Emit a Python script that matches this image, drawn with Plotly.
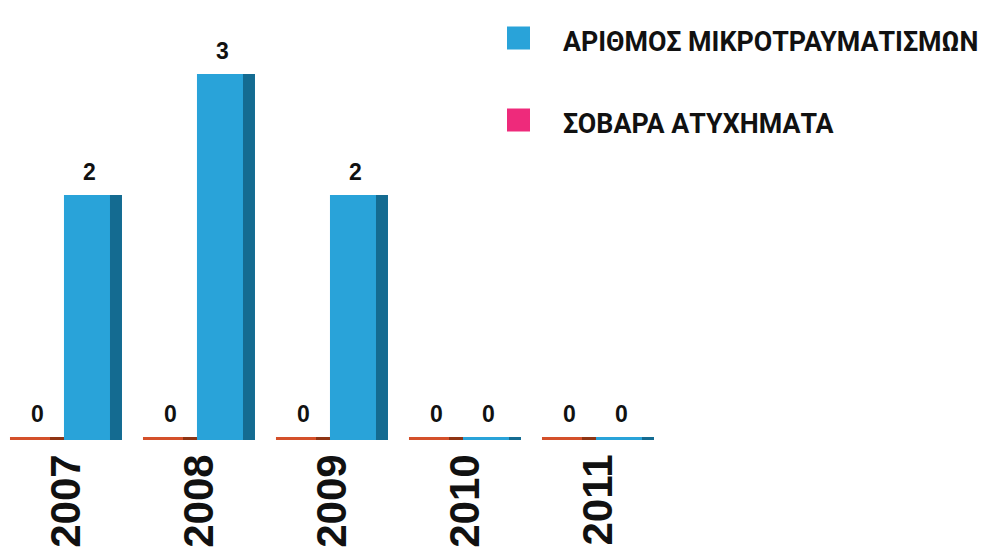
import plotly.graph_objects as go

years = ["2007", "2008", "2009", "2010", "2011"]
injuries = [2, 3, 2, 0, 0]          # ΑΡΙΘΜΟΣ ΜΙΚΡΟΤΡΑΥΜΑΤΙΣΜΩΝ
serious = [0, 0, 0, 0, 0]           # ΣΟΒΑΡΑ ΑΤΥΧΗΜΑΤΑ

name_inj = "ΑΡΙΘΜΟΣ ΜΙΚΡΟΤΡΑΥΜΑΤΙΣΜΩΝ"
name_ser = "ΣΟΒΑΡΑ ΑΤΥΧΗΜΑΤΑ"

BLUE, BLUE_DARK = "#29a3d9", "#146b91"
ORANGE, ORANGE_DARK = "#d4502a", "#8e3413"
PINK = "#ee2a7b"
BASE = -0.025   # bars start slightly below 0 so zero values show as a thin strip
LBL_FONT = dict(family="Liberation Sans, Arial", size=23, color="#111111", weight="bold")
LEG_FONT = dict(family="Roboto", size=26.8, color="#111111", weight="bold")

W, H = 986, 554
ML, MR, MT, MB = 0, 321, 0, 114
PW, PH = W - ML - MR, H - MT - MB

fig = go.Figure()

def bar(vals, color, offset, width, name):
    return go.Bar(
        x=years, y=[v - BASE for v in vals], base=BASE, offset=offset, width=width,
        marker=dict(color=color, line=dict(width=0)), name=name,
        showlegend=False, hoverinfo="skip",
    )

# serious accidents (left slot): front strip + darker end
fig.add_trace(bar(serious, ORANGE, -0.425, 0.414, name_ser))
fig.add_trace(bar(serious, ORANGE_DARK, -0.124, 0.113, name_ser))
# injuries (right slot): front face + darker side face
fig.add_trace(bar(injuries, BLUE, -0.019, 0.436, name_inj))
fig.add_trace(bar(injuries, BLUE_DARK, 0.327, 0.09, name_inj))

# value labels
annotations = []
for i, v in enumerate(serious):
    annotations.append(dict(x=i - 0.215, y=v, xref="x", yref="y", text=str(v),
                            showarrow=False, yanchor="middle", yshift=23, font=LBL_FONT))
for i, v in enumerate(injuries):
    annotations.append(dict(x=i + 0.17, y=v, xref="x", yref="y", text=str(v),
                            showarrow=False, yanchor="middle", yshift=23, font=LBL_FONT))

# legend (drawn as text + swatches so it fits the right edge exactly)
shapes = []
legend_items = [(name_inj, BLUE, 38), (name_ser, PINK, 120)]
for label, col, cy in legend_items:
    shapes.append(dict(type="rect", xref="paper", yref="paper",
                       x0=(507 - ML) / PW, x1=(530 - ML) / PW,
                       y0=1 - (cy + 11.5 - MT) / PH, y1=1 - (cy - 11.5 - MT) / PH,
                       fillcolor=col, line=dict(width=0)))
    annotations.append(dict(xref="paper", yref="paper", x=(561 - ML) / PW,
                            y=1 - (cy + 4 - MT) / PH, xanchor="left", yanchor="middle",
                            text=label, showarrow=False, font=LEG_FONT))

fig.update_layout(
    width=W, height=H,
    margin=dict(l=ML, r=MR, t=MT, b=MB),
    barmode="overlay",
    paper_bgcolor="white", plot_bgcolor="white",
    showlegend=False,
    annotations=annotations,
    shapes=shapes,
    xaxis=dict(
        type="category", range=[-0.5, 4.5], showgrid=False, zeroline=False,
        showline=False, ticks="", tickangle=-90, ticklabelstandoff=5,
        tickfont=dict(family="Liberation Sans, Arial", size=42, color="#111111", weight="bold"),
        automargin=False,
    ),
    yaxis=dict(range=[-0.025, 3.611], visible=False, automargin=False),
)

fig.write_html("out.html", config={"displayModeBar": False},
               post_script="document.body.style.margin='0';document.body.style.overflow='hidden';")
